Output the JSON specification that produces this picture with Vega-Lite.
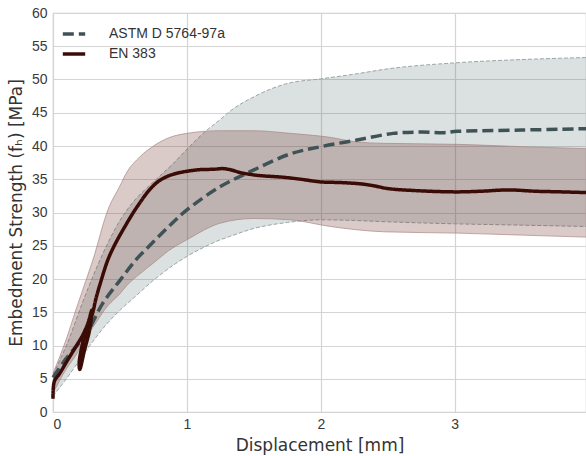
{
  "$schema": "https://vega.github.io/schema/vega-lite/v6.json",
  "autosize": "none",
  "width": 533,
  "height": 399,
  "padding": {"left": 53, "top": 13, "right": 0, "bottom": 44},
  "background": "white",
  "config": {
    "view": {"stroke": "#d4d4d4", "strokeWidth": 1.2},
    "axis": {
      "grid": true, "gridColor": "#d4d4d4", "gridWidth": 1.2,
      "domain": false, "ticks": false, "labelOverlap": false,
      "labelFont": "Liberation Sans", "labelFontSize": 14, "labelColor": "#3a3a3a",
      "titleFont": "DejaVu Sans", "titleFontSize": 17, "titleFontWeight": "normal", "titleColor": "#333333"
    },
    "legend": {
      "labelFont": "Liberation Sans", "labelFontSize": 14, "labelColor": "#333333"
    }
  },
  "datasets": {
    "means": [
      {"series": "ASTM D 5764-97a", "i": 0, "x": 0.0, "y": 5.2},
      {"series": "ASTM D 5764-97a", "i": 1, "x": 0.1, "y": 8.1},
      {"series": "ASTM D 5764-97a", "i": 2, "x": 0.25, "y": 11.8},
      {"series": "ASTM D 5764-97a", "i": 3, "x": 0.37, "y": 16.3},
      {"series": "ASTM D 5764-97a", "i": 4, "x": 0.5, "y": 19.8},
      {"series": "ASTM D 5764-97a", "i": 5, "x": 0.62, "y": 22.9},
      {"series": "ASTM D 5764-97a", "i": 6, "x": 0.75, "y": 25.6},
      {"series": "ASTM D 5764-97a", "i": 7, "x": 0.88, "y": 28.2},
      {"series": "ASTM D 5764-97a", "i": 8, "x": 1.0, "y": 30.4},
      {"series": "ASTM D 5764-97a", "i": 9, "x": 1.25, "y": 33.9},
      {"series": "ASTM D 5764-97a", "i": 10, "x": 1.5, "y": 36.4},
      {"series": "ASTM D 5764-97a", "i": 11, "x": 1.77, "y": 38.8},
      {"series": "ASTM D 5764-97a", "i": 12, "x": 2.0, "y": 39.9},
      {"series": "ASTM D 5764-97a", "i": 13, "x": 2.27, "y": 40.9},
      {"series": "ASTM D 5764-97a", "i": 14, "x": 2.54, "y": 41.9},
      {"series": "ASTM D 5764-97a", "i": 15, "x": 2.75, "y": 42.1},
      {"series": "ASTM D 5764-97a", "i": 16, "x": 2.92, "y": 42.0},
      {"series": "ASTM D 5764-97a", "i": 17, "x": 3.02, "y": 42.2},
      {"series": "ASTM D 5764-97a", "i": 18, "x": 3.5, "y": 42.4},
      {"series": "ASTM D 5764-97a", "i": 19, "x": 3.98, "y": 42.6},
      {"series": "EN 383", "i": 0, "x": 0.0, "y": 2.0},
      {"series": "EN 383", "i": 1, "x": 0.01, "y": 4.6},
      {"series": "EN 383", "i": 2, "x": 0.05, "y": 5.8},
      {"series": "EN 383", "i": 3, "x": 0.1, "y": 7.5},
      {"series": "EN 383", "i": 4, "x": 0.17, "y": 9.8},
      {"series": "EN 383", "i": 5, "x": 0.22, "y": 11.5},
      {"series": "EN 383", "i": 6, "x": 0.26, "y": 13.3},
      {"series": "EN 383", "i": 7, "x": 0.29, "y": 15.3},
      {"series": "EN 383", "i": 8, "x": 0.275, "y": 12.5},
      {"series": "EN 383", "i": 9, "x": 0.235, "y": 9.3},
      {"series": "EN 383", "i": 10, "x": 0.2, "y": 6.4},
      {"series": "EN 383", "i": 11, "x": 0.195, "y": 7.2},
      {"series": "EN 383", "i": 12, "x": 0.215, "y": 9.8},
      {"series": "EN 383", "i": 13, "x": 0.255, "y": 12.6},
      {"series": "EN 383", "i": 14, "x": 0.295, "y": 14.8},
      {"series": "EN 383", "i": 15, "x": 0.32, "y": 17.0},
      {"series": "EN 383", "i": 16, "x": 0.36, "y": 19.8},
      {"series": "EN 383", "i": 17, "x": 0.41, "y": 22.9},
      {"series": "EN 383", "i": 18, "x": 0.46, "y": 25.1},
      {"series": "EN 383", "i": 19, "x": 0.52, "y": 27.3},
      {"series": "EN 383", "i": 20, "x": 0.6, "y": 30.0},
      {"series": "EN 383", "i": 21, "x": 0.65, "y": 31.5},
      {"series": "EN 383", "i": 22, "x": 0.7, "y": 32.9},
      {"series": "EN 383", "i": 23, "x": 0.775, "y": 34.5},
      {"series": "EN 383", "i": 24, "x": 0.85, "y": 35.4},
      {"series": "EN 383", "i": 25, "x": 0.925, "y": 35.9},
      {"series": "EN 383", "i": 26, "x": 1.0, "y": 36.2},
      {"series": "EN 383", "i": 27, "x": 1.1, "y": 36.45},
      {"series": "EN 383", "i": 28, "x": 1.2, "y": 36.5},
      {"series": "EN 383", "i": 29, "x": 1.27, "y": 36.6},
      {"series": "EN 383", "i": 30, "x": 1.33, "y": 36.4},
      {"series": "EN 383", "i": 31, "x": 1.4, "y": 36.0},
      {"series": "EN 383", "i": 32, "x": 1.52, "y": 35.6},
      {"series": "EN 383", "i": 33, "x": 1.72, "y": 35.3},
      {"series": "EN 383", "i": 34, "x": 1.85, "y": 35.0},
      {"series": "EN 383", "i": 35, "x": 2.0, "y": 34.6},
      {"series": "EN 383", "i": 36, "x": 2.15, "y": 34.5},
      {"series": "EN 383", "i": 37, "x": 2.3, "y": 34.3},
      {"series": "EN 383", "i": 38, "x": 2.4, "y": 34.0},
      {"series": "EN 383", "i": 39, "x": 2.5, "y": 33.6},
      {"series": "EN 383", "i": 40, "x": 2.7, "y": 33.3},
      {"series": "EN 383", "i": 41, "x": 3.0, "y": 33.1},
      {"series": "EN 383", "i": 42, "x": 3.2, "y": 33.2},
      {"series": "EN 383", "i": 43, "x": 3.4, "y": 33.4},
      {"series": "EN 383", "i": 44, "x": 3.6, "y": 33.2},
      {"series": "EN 383", "i": 45, "x": 3.8, "y": 33.1},
      {"series": "EN 383", "i": 46, "x": 3.98, "y": 33.0}
    ],
    "astm_band": [
      {"x": 0.0, "lo": 2.4, "hi": 5.6},
      {"x": 0.1, "lo": 5.0, "hi": 10.0},
      {"x": 0.25, "lo": 9.3, "hi": 18.0},
      {"x": 0.4, "lo": 13.2, "hi": 25.0},
      {"x": 0.5, "lo": 15.3, "hi": 28.8},
      {"x": 0.6, "lo": 17.1, "hi": 31.6},
      {"x": 0.75, "lo": 19.8, "hi": 34.6},
      {"x": 0.9, "lo": 22.1, "hi": 37.4},
      {"x": 1.0, "lo": 23.4, "hi": 39.5},
      {"x": 1.15, "lo": 25.0, "hi": 42.4},
      {"x": 1.25, "lo": 25.9, "hi": 44.0},
      {"x": 1.32, "lo": 26.4, "hi": 45.2},
      {"x": 1.5, "lo": 27.6, "hi": 47.4},
      {"x": 1.75, "lo": 28.5, "hi": 49.4},
      {"x": 2.0, "lo": 28.9, "hi": 50.1},
      {"x": 2.25, "lo": 28.8, "hi": 50.8},
      {"x": 2.5, "lo": 28.6, "hi": 51.6},
      {"x": 3.0, "lo": 28.3, "hi": 52.5},
      {"x": 3.5, "lo": 28.1, "hi": 53.0},
      {"x": 3.98, "lo": 27.9, "hi": 53.3}
    ],
    "en_band": [
      {"x": 0.0, "lo": 2.8, "hi": 5.8},
      {"x": 0.1, "lo": 6.5, "hi": 11.0},
      {"x": 0.17, "lo": 8.5, "hi": 15.3},
      {"x": 0.25, "lo": 11.3, "hi": 20.0},
      {"x": 0.3, "lo": 12.8, "hi": 23.0},
      {"x": 0.41, "lo": 16.0, "hi": 30.4},
      {"x": 0.5, "lo": 17.8, "hi": 34.0},
      {"x": 0.55, "lo": 19.0, "hi": 36.0},
      {"x": 0.65, "lo": 20.8, "hi": 38.4},
      {"x": 0.75, "lo": 22.4, "hi": 40.0},
      {"x": 0.86, "lo": 24.2, "hi": 41.2},
      {"x": 1.0, "lo": 25.9, "hi": 41.9},
      {"x": 1.25, "lo": 28.4, "hi": 42.3},
      {"x": 1.5, "lo": 29.1, "hi": 42.3},
      {"x": 1.77, "lo": 28.9, "hi": 41.9},
      {"x": 2.07, "lo": 27.9, "hi": 41.3},
      {"x": 2.27, "lo": 27.4, "hi": 40.6},
      {"x": 2.47, "lo": 27.1, "hi": 40.4},
      {"x": 3.02, "lo": 26.9, "hi": 40.25},
      {"x": 3.5, "lo": 26.6, "hi": 39.9},
      {"x": 3.98, "lo": 26.3, "hi": 39.6}
    ]
  },
  "encoding": {
    "x": {
      "field": "x", "type": "quantitative",
      "scale": {"domain": [0, 3.98], "nice": false, "zero": false},
      "axis": {"values": [0, 1, 2, 3], "title": "Displacement [mm]", "labelPadding": 5, "titlePadding": 6}
    }
  },
  "layer": [
    {
      "data": {"name": "astm_band"},
      "mark": {"type": "area", "color": "#4a6468", "opacity": 0.2, "interpolate": "monotone"},
      "encoding": {
        "y": {"field": "lo", "type": "quantitative", "scale": {"domain": [0, 60], "nice": false}, "axis": {"values": [0, 5, 10, 15, 20, 25, 30, 35, 40, 45, 50, 55, 60], "title": "Embedment Strength (fₕ) [MPa]", "labelPadding": 6, "titlePadding": 6}},
        "y2": {"field": "hi"}
      }
    },
    {
      "data": {"name": "astm_band"},
      "mark": {"type": "line", "color": "#9aa6a8", "strokeWidth": 1, "strokeDash": [4, 2], "interpolate": "monotone"},
      "encoding": {"y": {"field": "lo", "type": "quantitative", "scale": {"domain": [0, 60], "nice": false}, "axis": {"values": [0, 5, 10, 15, 20, 25, 30, 35, 40, 45, 50, 55, 60], "title": "Embedment Strength (fₕ) [MPa]", "labelPadding": 6, "titlePadding": 6}}}
    },
    {
      "data": {"name": "astm_band"},
      "mark": {"type": "line", "color": "#9aa6a8", "strokeWidth": 1, "strokeDash": [4, 2], "interpolate": "monotone"},
      "encoding": {"y": {"field": "hi", "type": "quantitative", "scale": {"domain": [0, 60], "nice": false}, "axis": {"values": [0, 5, 10, 15, 20, 25, 30, 35, 40, 45, 50, 55, 60], "title": "Embedment Strength (fₕ) [MPa]", "labelPadding": 6, "titlePadding": 6}}}
    },
    {
      "data": {"name": "en_band"},
      "mark": {"type": "area", "color": "#6b2a22", "opacity": 0.25, "interpolate": "monotone"},
      "encoding": {
        "y": {"field": "lo", "type": "quantitative", "scale": {"domain": [0, 60], "nice": false}, "axis": {"values": [0, 5, 10, 15, 20, 25, 30, 35, 40, 45, 50, 55, 60], "title": "Embedment Strength (fₕ) [MPa]", "labelPadding": 6, "titlePadding": 6}},
        "y2": {"field": "hi"}
      }
    },
    {
      "data": {"name": "en_band"},
      "mark": {"type": "line", "color": "#a88884", "strokeWidth": 1, "opacity": 0.7, "interpolate": "monotone"},
      "encoding": {"y": {"field": "lo", "type": "quantitative", "scale": {"domain": [0, 60], "nice": false}, "axis": {"values": [0, 5, 10, 15, 20, 25, 30, 35, 40, 45, 50, 55, 60], "title": "Embedment Strength (fₕ) [MPa]", "labelPadding": 6, "titlePadding": 6}}}
    },
    {
      "data": {"name": "en_band"},
      "mark": {"type": "line", "color": "#a88884", "strokeWidth": 1, "opacity": 0.7, "interpolate": "monotone"},
      "encoding": {"y": {"field": "hi", "type": "quantitative", "scale": {"domain": [0, 60], "nice": false}, "axis": {"values": [0, 5, 10, 15, 20, 25, 30, 35, 40, 45, 50, 55, 60], "title": "Embedment Strength (fₕ) [MPa]", "labelPadding": 6, "titlePadding": 6}}}
    },
    {
      "data": {"name": "means"},
      "mark": {"type": "line", "strokeWidth": 3.5, "interpolate": "catmull-rom"},
      "encoding": {
        "y": {"field": "y", "type": "quantitative", "scale": {"domain": [0, 60], "nice": false}, "axis": {"values": [0, 5, 10, 15, 20, 25, 30, 35, 40, 45, 50, 55, 60], "title": "Embedment Strength (fₕ) [MPa]", "labelPadding": 6, "titlePadding": 6}},
        "order": {"field": "i", "type": "quantitative"},
        "color": {
          "field": "series", "type": "nominal",
          "scale": {"domain": ["ASTM D 5764-97a", "EN 383"], "range": ["#3f5357", "#3b0b06"]},
          "legend": {"title": null, "orient": "top-left", "offset": 0, "padding": 8, "symbolType": "stroke", "symbolSize": 500, "symbolStrokeWidth": 3.5, "labelOffset": 22, "rowPadding": 0}
        },
        "strokeDash": {
          "field": "series", "type": "nominal",
          "scale": {"domain": ["ASTM D 5764-97a", "EN 383"], "range": [[11, 5], [1, 0]]},
          "legend": {"title": null, "orient": "top-left", "offset": 0, "padding": 8, "symbolType": "stroke", "symbolSize": 500, "symbolStrokeWidth": 3.5, "labelOffset": 22, "rowPadding": 0}
        }
      }
    }
  ],
  "resolve": {"scale": {"y": "shared"}}
}
